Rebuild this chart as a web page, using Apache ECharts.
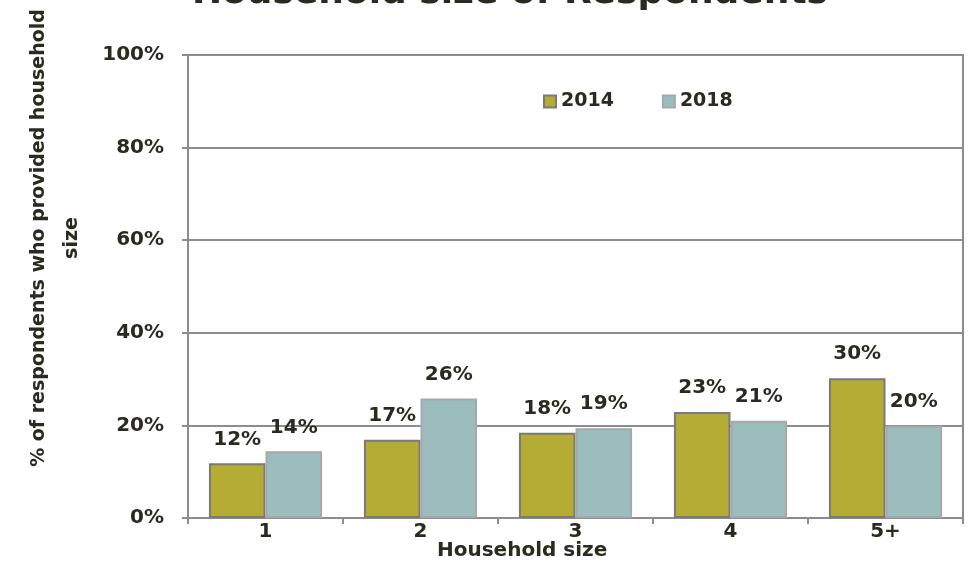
<!DOCTYPE html>
<html>
<head>
<meta charset="utf-8">
<script src="https://cdn.jsdelivr.net/npm/echarts@6/dist/echarts.min.js"></script>
<style>
  html, body { margin: 0; padding: 0; background: #fff; }
  #main { width: 972px; height: 564px; }
</style>
</head>
<body>
<div id="main"></div>
<script>
'use strict'
var categories = ['1', '2', '3', '4', '5+'];
var years = ['2014', '2018'];
var values2014 = [11.8, 16.9, 18.4, 22.9, 30.2];
var values2018 = [14.4, 25.8, 19.4, 21.0, 19.9];
var yTicks = [0, 20, 40, 60, 80, 100];

var textColor = '#2b2a20';
var lineColor = '#8c8c8c';
var font = 'DejaVu Sans';

var myChart = echarts.init(document.getElementById('main'));

function barLabel() {
    return {
        show: true,
        position: 'top',
        distance: 14,
        color: textColor,
        fontFamily: font,
        fontWeight: 'bold',
        fontSize: 20,
        formatter: function (p) { return Math.round(p.value) + '%'; }
    };
}

myChart.setOption({
    animation: false,
    title: {
        text: 'Household size of Respondents',
        left: 505,
        top: -29,
        textAlign: 'center',
        textStyle: {
            color: textColor,
            fontFamily: font,
            fontWeight: 'bold',
            fontSize: 36
        }
    },
    legend: {
        data: years,
        top: 87,
        left: 538,
        itemWidth: 12,
        itemHeight: 12,
        itemGap: 48,
        icon: 'rect',
        textStyle: {
            color: textColor,
            fontFamily: font,
            fontWeight: 'bold',
            fontSize: 19
        }
    },
    grid: {
        left: 188,
        right: 9,
        top: 55,
        bottom: 46,
        show: true,
        borderColor: lineColor,
        borderWidth: 2
    },
    graphic: [{
        type: 'text',
        left: 437,
        top: 541,
        style: {
            text: 'Household size',
            fill: textColor,
            font: 'bold 20px "DejaVu Sans"'
        }
    }, {
        type: 'text',
        x: 56,
        y: 238,
        rotation: Math.PI / 2,
        style: {
            text: '% of respondents who provided household\nsize',
            fill: textColor,
            font: 'bold 19px "DejaVu Sans"',
            lineHeight: 33,
            align: 'center',
            verticalAlign: 'middle'
        }
    }],
    xAxis: {
        type: 'category',
        data: categories,
        axisLine: { lineStyle: { color: lineColor, width: 2 } },
        axisTick: { show: true, length: 6, lineStyle: { color: lineColor, width: 2 } },
        axisLabel: {
            color: textColor,
            fontFamily: font,
            fontWeight: 'bold',
            fontSize: 20,
            margin: 4
        }
    },
    yAxis: {
        type: 'value',
        min: yTicks[0],
        max: yTicks[yTicks.length - 1],
        interval: 20,
        axisLine: { show: true, lineStyle: { color: lineColor, width: 2 } },
        axisTick: { show: true, length: 6, lineStyle: { color: lineColor, width: 2 } },
        splitLine: { lineStyle: { color: lineColor, width: 2 } },
        axisLabel: {
            color: textColor,
            fontFamily: font,
            fontWeight: 'bold',
            fontSize: 20,
            margin: 24,
            formatter: '{value}%'
        }
    },
    series: [
        {
            name: years[0],
            type: 'bar',
            barGap: 0,
            barCategoryGap: '27%',
            itemStyle: { color: '#b5ac36', borderColor: '#7a7a7a', borderWidth: 2 },
            label: barLabel(),
            data: values2014
        },
        {
            name: years[1],
            type: 'bar',
            itemStyle: { color: '#9bbdbd', borderColor: '#a8a8a8', borderWidth: 2 },
            label: barLabel(),
            data: values2018
        }
    ]
});
</script>
</body>
</html>
